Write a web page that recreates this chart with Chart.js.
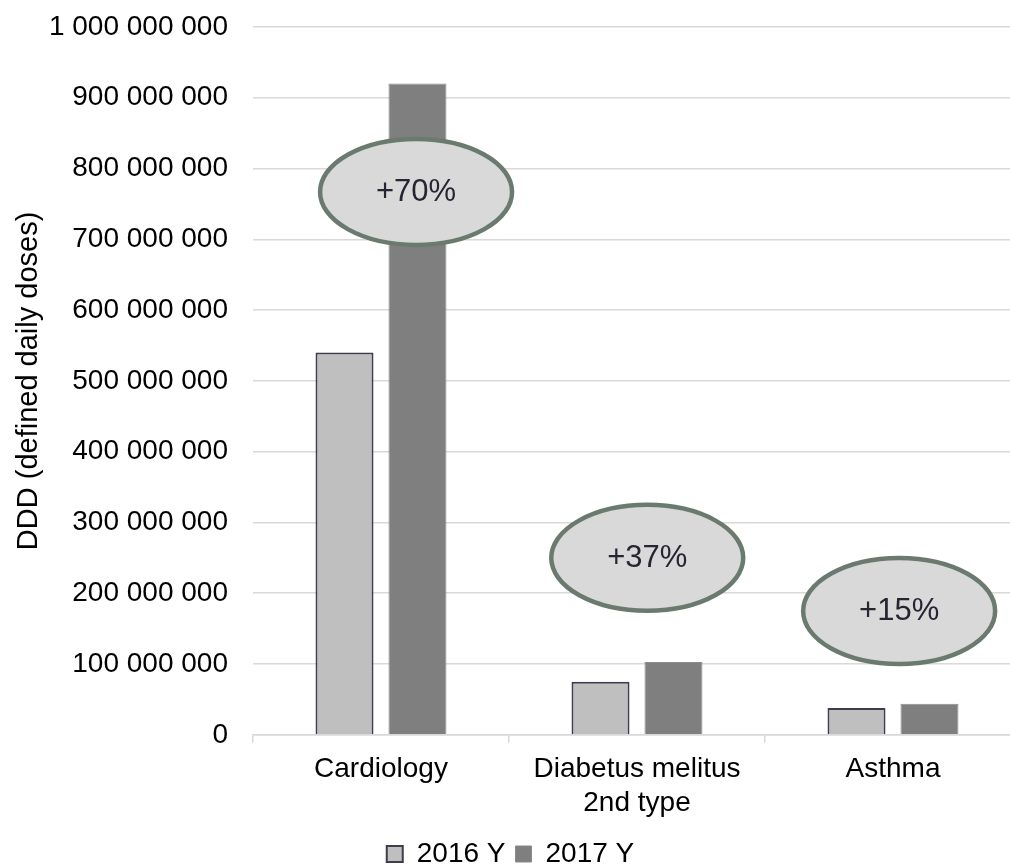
<!DOCTYPE html>
<html>
<head>
<meta charset="utf-8">
<script src="https://cdn.jsdelivr.net/npm/chart.js@4.4.1/dist/chart.umd.min.js"></script>
<style>
  html, body { margin: 0; padding: 0; background: #ffffff; overflow: hidden; }
  #wrap { position: relative; width: 1024px; height: 878px; }
</style>
</head>
<body>
<div id="wrap"><canvas id="chart"></canvas></div>
<script>
// Therapeutic areas and yearly consumption in defined daily doses
const categories = ['Cardiology', ['Diabetus melitus', '2nd type'], 'Asthma'];
const seriesNames = ['2016 Y', '2017 Y'];
const ddd2016 = [540000000, 75000000, 38000000];
const ddd2017 = [920000000, 103000000, 44000000];
const growthLabels = ['+70%', '+37%', '+15%'];
const yTicks = [0, 100000000, 200000000, 300000000, 400000000, 500000000,
                600000000, 700000000, 800000000, 900000000, 1000000000];

const FONT = '"Liberation Sans", Arial, sans-serif';

function spaced(v) {
  return String(Math.round(v)).replace(/\B(?=(\d{3})+(?!\d))/g, ' ');
}

// Growth call-outs: anchored in data space (category index shift, value)
const calloutAnchors = [
  { shift: 0.137, value: 767000000 },
  { shift: 0.04,  value: 250000000 },
  { shift: 0.024, value: 175000000 }
];

const calloutPlugin = {
  id: 'growthCallouts',
  afterDatasetsDraw(chart) {
    const { ctx, scales: { x, y } } = chart;
    const step = x.getPixelForValue(1) - x.getPixelForValue(0);
    growthLabels.forEach((label, i) => {
      const a = calloutAnchors[i];
      const cx = x.getPixelForValue(i) + a.shift * step;
      const cy = y.getPixelForValue(a.value);
      ctx.save();
      ctx.beginPath();
      ctx.ellipse(cx, cy, 96, 53, 0, 0, Math.PI * 2);
      ctx.fillStyle = '#d9d9d9';
      ctx.fill();
      ctx.lineWidth = 4.5;
      ctx.strokeStyle = '#6b7a6e';
      ctx.stroke();
      ctx.fillStyle = '#262633';
      ctx.font = '31px ' + FONT;
      ctx.textAlign = 'center';
      ctx.textBaseline = 'middle';
      ctx.fillText(label, cx, cy + 1);
      ctx.restore();
    });
  }
};

new Chart(document.getElementById('chart'), {
  type: 'bar',
  data: {
    labels: categories,
    datasets: [
      {
        label: seriesNames[0],
        data: ddd2016,
        backgroundColor: '#bfbfbf',
        borderColor: '#3d3d4d',
        borderWidth: 2,
        categoryPercentage: 0.57,
        barPercentage: 0.795
      },
      {
        label: seriesNames[1],
        data: ddd2017,
        backgroundColor: '#7f7f7f',
        borderColor: '#8a8a8a',
        borderWidth: 1,
        categoryPercentage: 0.57,
        barPercentage: 0.795
      }
    ]
  },
  options: {
    responsive: true,
    maintainAspectRatio: false,
    animation: false,
    devicePixelRatio: 1,
    layout: { padding: { top: 27, left: 0, right: 3, bottom: 0 } },
    plugins: {
      legend: {
        position: 'bottom',
        labels: {
          font: { family: FONT, size: 28 },
          color: '#000000',
          boxWidth: 16,
          boxHeight: 16,
          padding: 10
        }
      },
      tooltip: { enabled: false }
    },
    scales: {
      x: {
        grid: {
          display: true,
          drawOnChartArea: false,
          drawTicks: true,
          tickLength: 8,
          color: '#d9d9d9',
          lineWidth: 1.5,
          offset: true
        },
        border: { display: true, color: '#d9d9d9', width: 1.5 },
        ticks: {
          font: { family: FONT, size: 28 },
          color: '#000000',
          padding: 10,
          maxRotation: 0
        }
      },
      y: {
        min: 0,
        max: 1000000000,
        afterBuildTicks(scale) {
          scale.ticks = yTicks.map(v => ({ value: v }));
        },
        afterFit(scale) {
          scale.width = 253;
          scale.paddingTop = 0;
          scale.paddingBottom = 0;
        },
        grid: { color: '#d9d9d9', lineWidth: 1.5, drawTicks: false },
        border: { display: false },
        ticks: {
          font: { family: FONT, size: 28 },
          color: '#000000',
          padding: 25,
          callback: v => spaced(v)
        },
        title: {
          display: true,
          text: 'DDD (defined daily doses)',
          font: { family: FONT, size: 29 },
          color: '#000000',
          padding: { top: 12, bottom: 0 }
        }
      }
    }
  },
  plugins: [calloutPlugin]
});
</script>
</body>
</html>
